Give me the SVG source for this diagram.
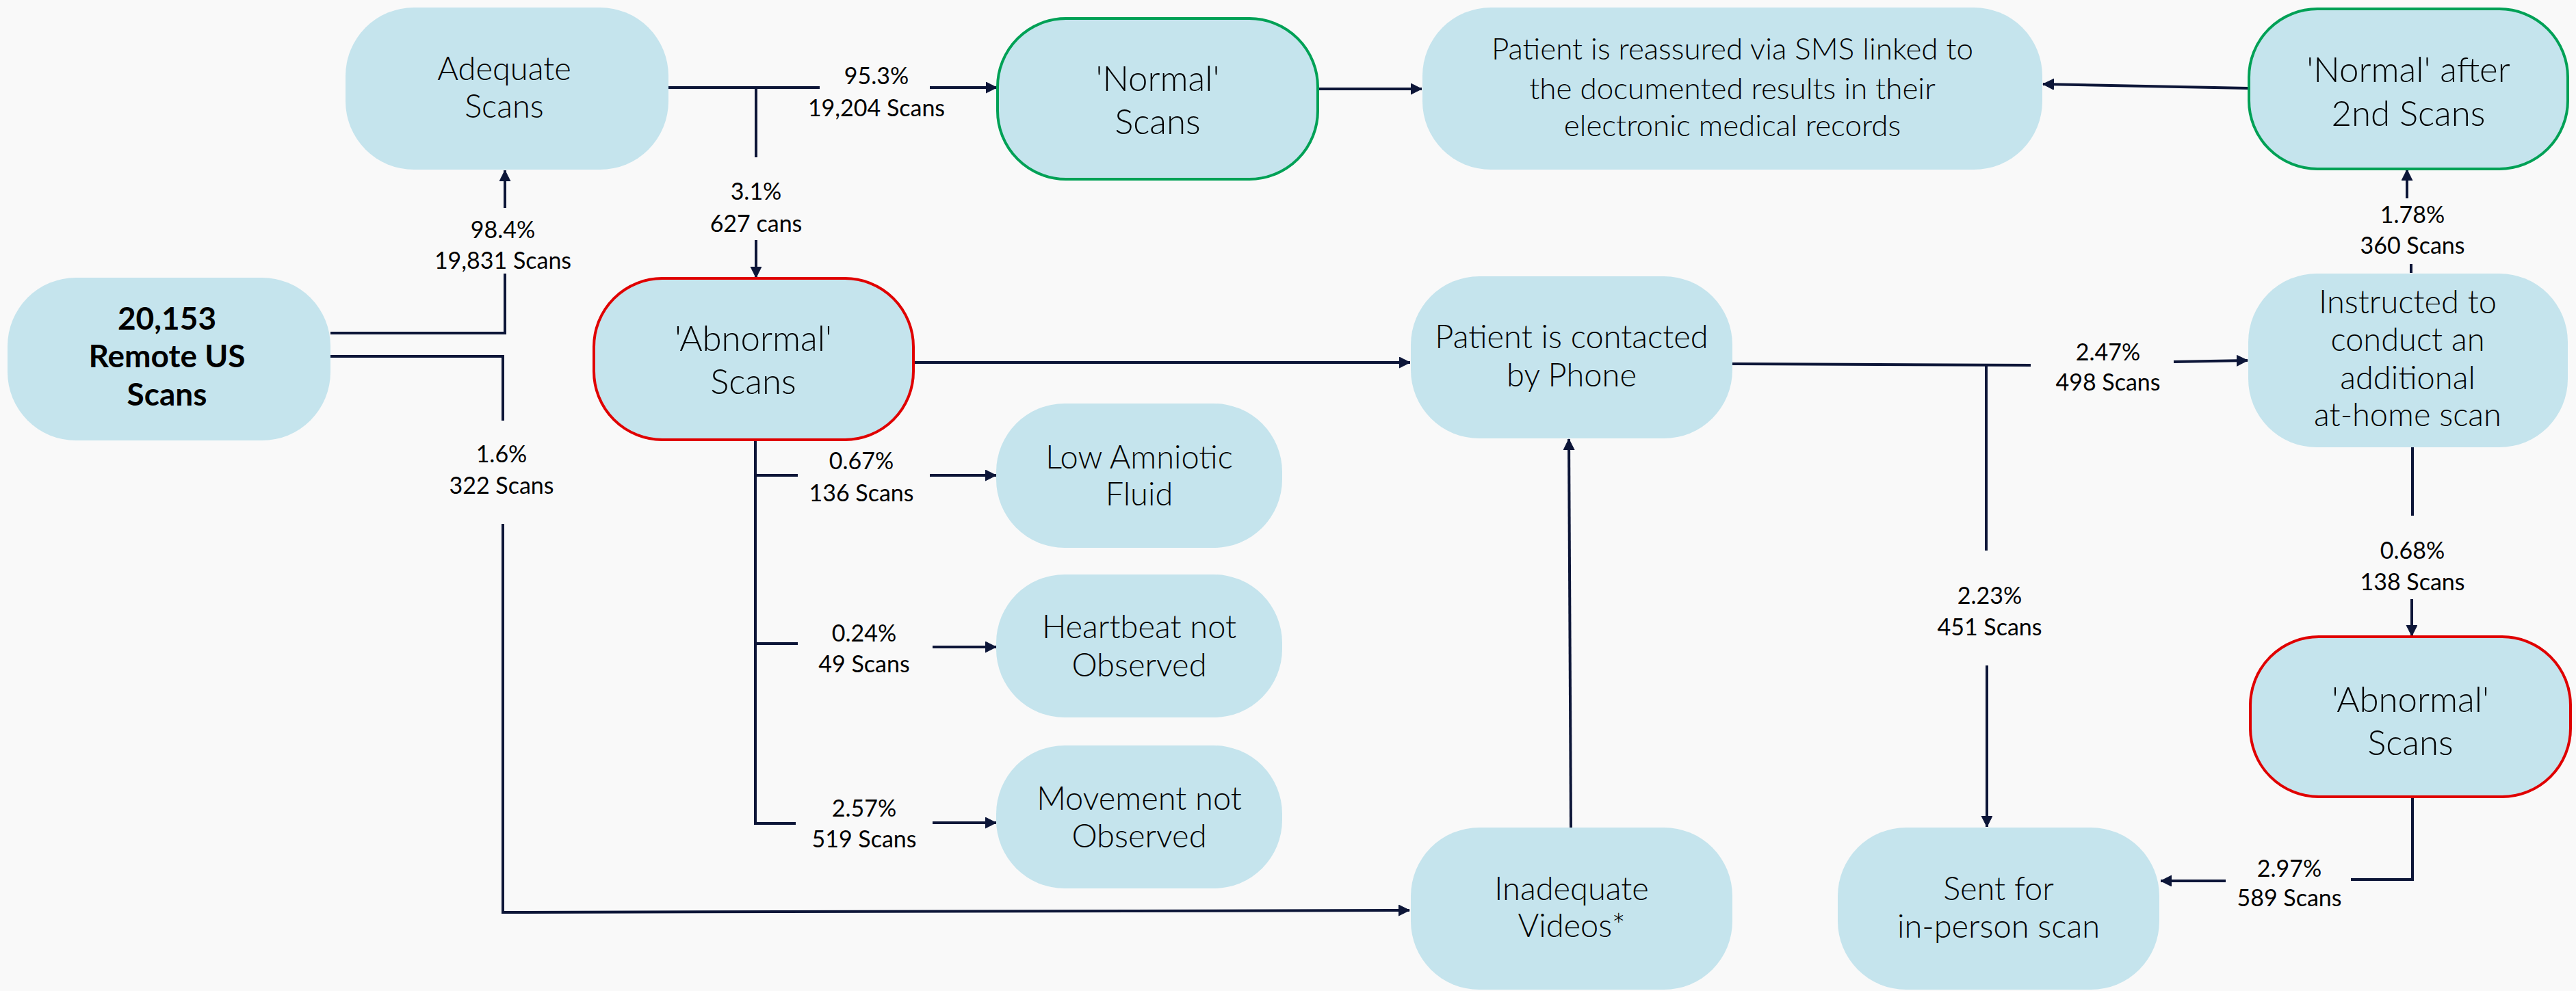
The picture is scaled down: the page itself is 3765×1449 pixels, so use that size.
<svg xmlns="http://www.w3.org/2000/svg" width="3765" height="1449" viewBox="0 0 3765 1449">
<style>
.bg{fill:#F9F9F9}
.node{fill:#C5E4ED}
.red{stroke:#E00000;stroke-width:4}
.green{stroke:#00A156;stroke-width:4}
.t{font-family:Lato,"Liberation Sans",Arial,sans-serif;font-weight:300;font-size:47px;fill:#000;text-anchor:middle}
.tb{font-family:Lato,"Liberation Sans",Arial,sans-serif;font-weight:700;font-size:46px;fill:#000;text-anchor:middle}
.big{font-size:51px}
.sm{font-size:44px}
.lbl{font-family:Lato,"Liberation Sans",Arial,sans-serif;font-weight:400;font-size:34px;fill:#000;text-anchor:middle}
.c{fill:none;stroke:#0D1638;stroke-width:4}
.a{marker-end:url(#arr)}
</style>
<defs>
<marker id="arr" markerUnits="userSpaceOnUse" markerWidth="18" markerHeight="18" refX="16" refY="8" orient="auto">
<path d="M0,0 L16,8 L0,16 Z" fill="#0D1638" stroke="#0D1638" stroke-width="1" stroke-linejoin="round"/>
</marker>
</defs>
<rect class="bg" x="0" y="0" width="3765" height="1449"/>

<g id="connectors">
<polyline class="c" points="483,487 738,487 738,400"/>
<line class="c a" x1="738" y1="304" x2="738" y2="249"/>
<polyline class="c" points="483,521 735,521 735,615"/>
<polyline class="c a" points="735,766 735,1334 2060,1331"/>
<line class="c" x1="977" y1="128" x2="1198" y2="128"/>
<line class="c a" x1="1359" y1="128" x2="1457" y2="128"/>
<line class="c" x1="1105" y1="128" x2="1105" y2="230"/>
<line class="c a" x1="1105" y1="351" x2="1105" y2="406"/>
<line class="c a" x1="1926" y1="130" x2="2078" y2="130"/>
<line class="c a" x1="1335" y1="530" x2="2061" y2="530"/>
<polyline class="c" points="1104,643 1104,1204 1163,1204"/>
<line class="c" x1="1104" y1="695" x2="1166" y2="695"/>
<line class="c" x1="1104" y1="941" x2="1166" y2="941"/>
<line class="c a" x1="1359" y1="695" x2="1456" y2="695"/>
<line class="c a" x1="1363" y1="946" x2="1456" y2="946"/>
<line class="c a" x1="1363" y1="1203" x2="1456" y2="1203"/>
<line class="c" x1="2532" y1="532" x2="2968" y2="534"/>
<line class="c a" x1="3177" y1="529" x2="3285" y2="527"/>
<line class="c" x1="2903" y1="533" x2="2903" y2="805"/>
<line class="c a" x1="2904" y1="973" x2="2904" y2="1209"/>
<line class="c" x1="3524" y1="399" x2="3524" y2="386"/>
<line class="c a" x1="3518" y1="290" x2="3518" y2="248"/>
<line class="c" x1="3526" y1="654" x2="3526" y2="754"/>
<line class="c a" x1="3525" y1="876" x2="3525" y2="930"/>
<polyline class="c" points="3526,1165 3526,1286 3436,1286"/>
<line class="c a" x1="3253" y1="1288" x2="3158" y2="1288"/>
<line class="c a" x1="3286" y1="129" x2="2986" y2="123"/>
<line class="c a" x1="2296" y1="1210" x2="2293" y2="642"/>
</g>

<g id="labels">
<text class="lbl" x="735" y="348">98.4%</text><text class="lbl" x="735" y="393">19,831 Scans</text>
<text class="lbl" x="733" y="676">1.6%</text><text class="lbl" x="733" y="722">322 Scans</text>
<text class="lbl" x="1281" y="123">95.3%</text><text class="lbl" x="1281" y="170">19,204 Scans</text>
<text class="lbl" x="1105" y="292">3.1%</text><text class="lbl" x="1105" y="339">627 cans</text>
<text class="lbl" x="1259" y="686">0.67%</text><text class="lbl" x="1259" y="733">136 Scans</text>
<text class="lbl" x="1263" y="938">0.24%</text><text class="lbl" x="1263" y="983">49 Scans</text>
<text class="lbl" x="1263" y="1194">2.57%</text><text class="lbl" x="1263" y="1239">519 Scans</text>
<text class="lbl" x="3081" y="527">2.47%</text><text class="lbl" x="3081" y="571">498 Scans</text>
<text class="lbl" x="2908" y="883">2.23%</text><text class="lbl" x="2908" y="929">451 Scans</text>
<text class="lbl" x="3526" y="326">1.78%</text><text class="lbl" x="3526" y="371">360 Scans</text>
<text class="lbl" x="3526" y="817">0.68%</text><text class="lbl" x="3526" y="863">138 Scans</text>
<text class="lbl" x="3346" y="1282">2.97%</text><text class="lbl" x="3346" y="1325">589 Scans</text>
</g>

<g id="n-remote">
<rect class="node" x="11" y="406" width="472" height="238" rx="100" ry="100"/>
<text class="tb" x="244" y="482">20,153</text>
<text class="tb" x="244" y="537">Remote US</text>
<text class="tb" x="244" y="593">Scans</text>
</g>
<g id="n-adequate">
<rect class="node" x="505" y="11" width="472" height="237" rx="100" ry="100"/>
<text class="t" x="737" y="117">Adequate</text>
<text class="t" x="737" y="172">Scans</text>
</g>
<g id="n-normal">
<rect class="node green" x="1458" y="27" width="468" height="235" rx="100" ry="100"/>
<text class="t big" x="1692" y="133">'Normal'</text>
<text class="t big" x="1692" y="196">Scans</text>
</g>
<g id="n-reassured">
<rect class="node" x="2079" y="11" width="906" height="237" rx="100" ry="100"/>
<text class="t sm" x="2532" y="87">Patient is reassured via SMS linked to</text>
<text class="t sm" x="2532" y="145">the documented results in their</text>
<text class="t sm" x="2532" y="199">electronic medical records</text>
</g>
<g id="n-normal2">
<rect class="node green" x="3287" y="13" width="466" height="234" rx="100" ry="100"/>
<text class="t big" x="3520" y="120">'Normal' after</text>
<text class="t big" x="3520" y="184">2nd Scans</text>
</g>
<g id="n-abnormal">
<rect class="node red" x="868" y="407" width="467" height="236" rx="100" ry="100"/>
<text class="t big" x="1101" y="513">'Abnormal'</text>
<text class="t big" x="1101" y="576">Scans</text>
</g>
<g id="n-phone">
<rect class="node" x="2062" y="404" width="470" height="237" rx="100" ry="100"/>
<text class="t" x="2297" y="509">Patient is contacted</text>
<text class="t" x="2297" y="565">by Phone</text>
</g>
<g id="n-instructed">
<rect class="node" x="3286" y="400" width="467" height="254" rx="100" ry="100"/>
<text class="t" x="3519" y="458">Instructed to</text>
<text class="t" x="3519" y="513">conduct an</text>
<text class="t" x="3519" y="569">additional</text>
<text class="t" x="3519" y="623">at-home scan</text>
</g>
<g id="n-lowamniotic">
<rect class="node" x="1456" y="590" width="418" height="211" rx="100" ry="100"/>
<text class="t" x="1665" y="685">Low Amniotic</text>
<text class="t" x="1665" y="739">Fluid</text>
</g>
<g id="n-heartbeat">
<rect class="node" x="1456" y="840" width="418" height="209" rx="100" ry="100"/>
<text class="t" x="1665" y="933">Heartbeat not</text>
<text class="t" x="1665" y="989">Observed</text>
</g>
<g id="n-movement">
<rect class="node" x="1456" y="1090" width="418" height="209" rx="100" ry="100"/>
<text class="t" x="1665" y="1184">Movement not</text>
<text class="t" x="1665" y="1239">Observed</text>
</g>
<g id="n-abnormal2">
<rect class="node red" x="3289" y="931" width="468" height="234" rx="100" ry="100"/>
<text class="t big" x="3523" y="1041">'Abnormal'</text>
<text class="t big" x="3523" y="1104">Scans</text>
</g>
<g id="n-inadequate">
<rect class="node" x="2062" y="1210" width="470" height="237" rx="100" ry="100"/>
<text class="t" x="2297" y="1316">Inadequate</text>
<text class="t" x="2297" y="1370">Videos*</text>
</g>
<g id="n-sent">
<rect class="node" x="2686" y="1210" width="470" height="237" rx="100" ry="100"/>
<text class="t" x="2921" y="1316">Sent for</text>
<text class="t" x="2921" y="1371">in-person scan</text>
</g>
</svg>
